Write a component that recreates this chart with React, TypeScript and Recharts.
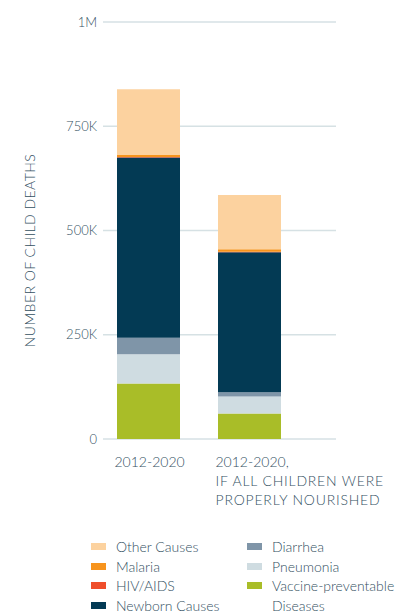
import React from 'react';
import { BarChart, Bar, XAxis, YAxis, CartesianGrid, Legend } from 'recharts';

// categories and series (bottom to top of each stack)
const categories = ['2012-2020', '2012-2020,\nIF ALL CHILDREN WERE\nPROPERLY NOURISHED'];
const vaccinePreventable = [133000, 61000];
const pneumonia = [70000, 41000];
const diarrhea = [40000, 10000];
const newbornCauses = [432000, 336000];
const hivAids = [1000, 1000];
const malaria = [5000, 6000];
const otherCauses = [158000, 130000];

const yTicks = [0, 250000, 500000, 750000, 1000000];
const yTickLabels = ['0', '250K', '500K', '750K', '1M'];

const seriesKeys = ['vaccine', 'pneumonia', 'diarrhea', 'newborn', 'hiv', 'malaria', 'other'];
const seriesNames = [
    'Vaccine-preventable Diseases',
    'Pneumonia',
    'Diarrhea',
    'Newborn Causes',
    'HIV/AIDS',
    'Malaria',
    'Other Causes',
];
const seriesColors = ['#a9bd28', '#cfdce1', '#7f95a8', '#033a54', '#ef4e2b', '#f7941d', '#fcd29f'];

const legendColumns = [
    ['Other Causes', 'Malaria', 'HIV/AIDS', 'Newborn Causes'],
    ['Diarrhea', 'Pneumonia', 'Vaccine-preventable Diseases'],
];

const TEXT = '#33505f';
const FONT = 'Lato, sans-serif';

const data = categories.map((name, i) => ({
    name,
    vaccine: vaccinePreventable[i],
    pneumonia: pneumonia[i],
    diarrhea: diarrhea[i],
    newborn: newbornCauses[i],
    hiv: hivAids[i],
    malaria: malaria[i],
    other: otherCauses[i],
}));

const XTick = (props: any) => {
    const { x, y, payload } = props;
    const lines = String(payload.value).split('\n');
    return (
        <text x={x - 34} y={y} fill={TEXT} fontSize={14} fontWeight={300} fontFamily={FONT} textAnchor='start'>
            {lines.map((line, i) => (
                <tspan key={i} x={x - 34} dy={i === 0 ? 28 : 19} letterSpacing={i === 0 ? 0 : 0.8}>
                    {line}
                </tspan>
            ))}
        </text>
    );
};

const YLabel = (props: any) => {
    const vb = props.viewBox || { x: 0, y: 22, width: 103, height: 417 };
    const cx = vb.x + 29;
    const cy = vb.y + vb.height / 2 + 20;
    return (
        <text
            x={cx}
            y={cy}
            transform={`rotate(-90 ${cx} ${cy})`}
            textAnchor='middle'
            dominantBaseline='central'
            fill={TEXT}
            fontSize={14}
            fontWeight={300}
            letterSpacing={0.45}
            fontFamily={FONT}
        >
            NUMBER OF CHILD DEATHS
        </text>
    );
};

const LegendContent = () => (
    <div
        style={{
            display: 'flex',
            paddingLeft: 91,
            fontFamily: FONT,
            fontSize: 14,
            fontWeight: 300,
            color: TEXT,
        }}
    >
        {legendColumns.map((col, c) => (
            <div key={c} style={{ width: c === 0 ? 156 : 150 }}>
                {col.map((name) => (
                    <div key={name} style={{ display: 'flex', alignItems: 'flex-start', lineHeight: '19.5px' }}>
                        <span
                            style={{
                                display: 'inline-block',
                                width: 15,
                                height: 7,
                                marginTop: 6,
                                marginRight: 10,
                                background: seriesColors[seriesNames.indexOf(name)],
                                flexShrink: 0,
                            }}
                        />
                        <span style={{ maxWidth: 130 }}>{name}</span>
                    </div>
                ))}
            </div>
        ))}
    </div>
);

export default function App() {
    return (
        <div style={{ position: 'absolute', left: 0, top: 0, width: 406, height: 612, background: '#fff' }}>
            <BarChart
                width={406}
                height={612}
                data={data}
                margin={{ top: 22, right: 70, left: 0, bottom: 103 }}
            >
                <CartesianGrid vertical={false} stroke='#d6e1e4' strokeWidth={1.5} />
                <XAxis
                    dataKey='name'
                    axisLine={false}
                    tickLine={false}
                    tickSize={0}
                    tickMargin={0}
                    height={70}
                    interval={0}
                    padding={{ left: -5, right: 36 }}
                    tick={<XTick />}
                />
                <YAxis
                    width={103}
                    domain={[0, 1000000]}
                    ticks={yTicks}
                    interval={0}
                    axisLine={false}
                    tickLine={false}
                    tickSize={0}
                    tickMargin={6}
                    tickFormatter={(v: number) => yTickLabels[yTicks.indexOf(v)]}
                    tick={{ fill: TEXT, fontSize: 13, fontWeight: 300, fontFamily: FONT }}
                    label={<YLabel />}
                />
                <Legend
                    layout='horizontal'
                    verticalAlign='middle'
                    align='center'
                    wrapperStyle={{ top: 537, left: 0, width: 406 }}
                    content={<LegendContent />}
                />
                {seriesKeys.map((key, i) => (
                    <Bar
                        key={key}
                        dataKey={key}
                        name={seriesNames[i]}
                        stackId='deaths'
                        fill={seriesColors[i]}
                        barSize={63}
                        isAnimationActive={false}
                    />
                ))}
            </BarChart>
        </div>
    );
}
